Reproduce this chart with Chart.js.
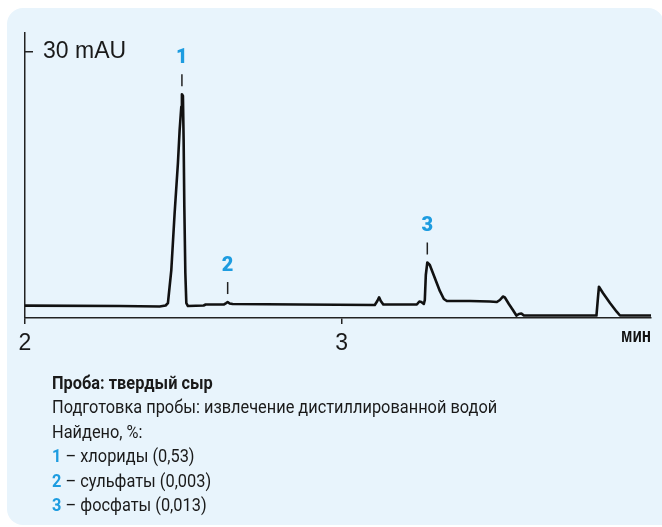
<!DOCTYPE html>
<html>
<head>
<meta charset="utf-8">
<script src="https://cdn.jsdelivr.net/npm/chart.js@4/dist/chart.umd.min.js"></script>
<style>
  html, body { margin: 0; padding: 0; background: #fff; }
  body { width: 662px; height: 527px; position: relative; overflow: hidden; }
  .panel { position: absolute; left: 7px; top: 8px; width: 657px; height: 517px;
           background: #e8f4fc; border-radius: 16px 16px 0 16px; }
  #chart { position: absolute; left: 0; top: 0; }
  .unit { position: absolute; right: 11px; top: 324px; line-height: 18px;
          font: bold 20px 'Liberation Sans', sans-serif; color: #111;
          transform: scaleX(0.77); transform-origin: right center; }
  .notes { position: absolute; left: 52px; top: 371px; font-family: Roboto, sans-serif;
           font-size: 17.6px; line-height: 24.4px; color: #1a1a1a; white-space: nowrap;
           transform: scaleX(0.93); transform-origin: left top; }
  .notes .n { color: #1d9ce0; font-weight: bold; }
</style>
</head>
<body>
<div class="panel"></div>
<canvas id="chart" width="662" height="527"></canvas>
<div class="unit">мин</div>
<div class="notes">
  <div><b>Проба: твердый сыр</b></div>
  <div>Подготовка пробы: извлечение дистиллированной водой</div>
  <div>Найдено, %:</div>
  <div><span class="n">1</span> – хлориды (0,53)</div>
  <div><span class="n">2</span> – сульфаты (0,003)</div>
  <div><span class="n">3</span> – фосфаты (0,013)</div>
</div>
<script>
// Retention time, min
const times = [
  2.0000, 2.2986, 2.4250, 2.4439, 2.4512, 2.4619, 2.4724, 2.4828, 2.4882, 2.4935,
  2.4954, 2.4986, 2.5008, 2.5030, 2.5062, 2.5093, 2.5144, 2.5640, 2.5703, 2.6272,
  2.6351, 2.6398, 2.6461, 2.6556, 2.8673, 3.1043, 3.1122, 3.1179, 3.1232, 3.1311,
  3.2370, 3.2449, 3.2512, 3.2591, 3.2622, 3.2654, 3.2701, 3.2780, 3.2938, 3.3096,
  3.3223, 3.3318, 3.4044, 3.4676, 3.4897, 3.4992, 3.5087, 3.5150, 3.5276, 3.5403,
  3.5513, 3.5592, 3.5671, 3.5750, 3.8041, 3.8088, 3.8120, 3.8246, 3.8468, 3.8679,
  3.8783, 3.9763
];
// Detector signal, mAU
const signal = [
  1.39, 1.35, 1.30, 1.41, 1.69, 5.41, 11.84, 17.48, 21.20, 23.83,
  25.23, 25.04, 20.07, 12.55, 5.07, 1.69, 1.35, 1.41, 1.52, 1.52,
  1.69, 1.80, 1.64, 1.58, 1.52, 1.47, 1.92, 2.33, 1.92, 1.52,
  1.52, 1.86, 1.80, 1.58, 2.03, 4.85, 6.26, 5.98, 4.51, 3.05,
  2.14, 1.92, 1.92, 1.86, 1.80, 2.03, 2.42, 2.31, 1.58, 0.90,
  0.28, 0.45, 0.51, 0.28, 0.28, 2.26, 3.53, 2.82, 1.69, 0.71,
  0.28, 0.28
];
// Identified peaks: number and retention time
const peakIds = ['1', '2', '3'];
const peakTimes = [2.4954, 2.6398, 3.2701];

// Axis ticks
const xTicks = [2, 3];
const yTicks = [30];
const yTickText = ['30 mAU'];

const axisFont = "'Liberation Sans', Arial, sans-serif";
const ink = '#1a1a1a';

// Number + short dash above each identified peak
const peakLabels = {
  id: 'peakLabels',
  afterDatasetsDraw(chart) {
    const { ctx, scales: { x, y } } = chart;
    ctx.save();
    peakIds.forEach((id, i) => {
      const idx = times.indexOf(peakTimes[i]);
      const px = x.getPixelForValue(peakTimes[i]);
      const py = y.getPixelForValue(signal[idx]);
      ctx.strokeStyle = '#222';
      ctx.lineWidth = 1.5;
      ctx.beginPath();
      ctx.moveTo(px, py - 20);
      ctx.lineTo(px, py - 8);
      ctx.stroke();
      ctx.fillStyle = '#1d9ce0';
      ctx.font = '900 20px Roboto, sans-serif';
      ctx.textAlign = 'center';
      ctx.textBaseline = 'middle';
      ctx.fillText(id, px, py - 36);
    });
    ctx.restore();
  }
};

new Chart(document.getElementById('chart'), {
  type: 'line',
  data: {
    datasets: [{
      data: times.map((t, i) => ({ x: t, y: signal[i] })),
      borderColor: '#111',
      borderWidth: 2.6,
      pointRadius: 0,
      tension: 0,
      fill: false,
      borderJoinStyle: 'round',
      borderCapStyle: 'round'
    }]
  },
  options: {
    responsive: false,
    animation: false,
    devicePixelRatio: 1,
    layout: { padding: { left: 25, top: 33, right: 11, bottom: 169 } },
    plugins: { legend: { display: false }, tooltip: { enabled: false } },
    scales: {
      x: {
        type: 'linear',
        min: 2,
        max: 3.9763,
        afterBuildTicks: s => { s.ticks = xTicks.map(v => ({ value: v })); },
        afterFit: s => { s.height = 40; },
        grid: { drawOnChartArea: false, tickLength: 6, color: '#222', lineWidth: 1.5 },
        border: { display: true, color: '#222', width: 1.5 },
        ticks: {
          autoSkip: false, maxRotation: 0, padding: 6, color: ink,
          font: { family: axisFont, size: 23 },
          callback: v => String(v)
        }
      },
      y: {
        type: 'linear',
        min: 0,
        max: 32.14,
        afterBuildTicks: s => { s.ticks = yTicks.map(v => ({ value: v })); },
        afterFit: s => { s.width = 0; },
        grid: { drawOnChartArea: false, tickLength: -8, color: '#222', lineWidth: 1.5 },
        border: { display: true, color: '#222', width: 1.5 },
        ticks: {
          mirror: true, padding: 18, color: ink,
          font: { family: axisFont, size: 23 },
          callback: (v, i) => yTickText[i]
        }
      }
    }
  },
  plugins: [peakLabels]
});
</script>
</body>
</html>
